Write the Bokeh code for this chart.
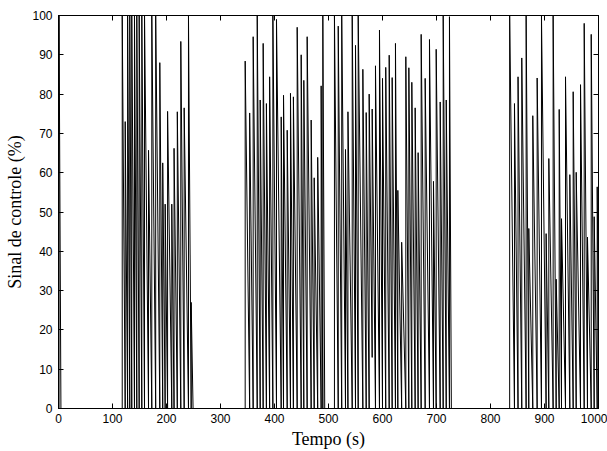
from bokeh.plotting import figure
from bokeh.models import Range1d, LinearAxis, FixedTicker
from bokeh.embed import file_html
from bokeh.resources import INLINE

# ---- data ----
x_ticks = [0, 100, 200, 300, 400, 500, 600, 700, 800, 900, 1000]
y_ticks = [0, 10, 20, 30, 40, 50, 60, 70, 80, 90, 100]

# time (s) of each pulse and its peak value (%)
spike_time = [
    1.0,
    118.0, 123.5, 128.0, 132.0, 135.7, 140.7, 145.0, 149.4, 154.3, 159.3,
    166.7, 172.8, 180.0, 187.6, 193.0, 197.5, 202.0, 209.8, 214.0, 220.0,
    226.5, 232.7, 240.7, 245.7,
    345.7, 354.0, 360.5, 368.0, 373.5, 379.0, 385.0, 391.0, 397.0, 403.7,
    412.4, 416.7, 423.5, 429.6, 435.0, 442.0, 449.4, 454.3, 460.5, 467.9,
    473.5, 480.0, 486.4, 489.5,
    511.0, 518.0, 524.5, 531.5, 536.0, 543.9, 550.0, 555.0, 563.6, 569.8,
    575.3, 580.9, 587.0, 594.4, 600.0, 606.0, 612.4, 617.9, 624.0, 628.4,
    635.5, 643.2, 648.8, 654.3, 660.5, 666.0, 671.6, 679.0, 687.0, 694.4,
    699.4, 706.8, 712.4, 718.0, 724.0,
    835.5, 844.4, 851.0, 857.9, 866.0, 870.9, 878.3, 886.4, 894.4, 903.0,
    908.0, 916.0, 921.6, 927.2, 931.5, 938.9, 946.9, 953.1, 958.7, 966.7,
    973.5, 979.6, 986.5, 992.0, 997.6,
]
spike_peak = [
    100.0,
    100.0, 73.0, 100.0, 100.0, 100.0, 100.0, 100.0, 100.0, 100.0, 100.0,
    65.7, 100.0, 100.0, 88.0, 62.5, 52.0, 75.6, 52.0, 66.2, 75.5,
    93.4, 76.5, 100.0, 27.0,
    88.4, 75.2, 94.6, 100.0, 78.5, 92.9, 77.6, 84.4, 100.0, 99.0,
    74.2, 79.7, 70.8, 80.2, 79.3, 97.0, 90.0, 83.5, 94.6, 73.4,
    58.7, 63.9, 82.1, 100.0,
    100.0, 97.3, 100.0, 65.9, 75.5, 100.0, 92.4, 100.0, 86.3, 75.3,
    80.0, 76.2, 87.2, 96.3, 84.0, 86.8, 89.9, 84.2, 92.9, 55.5,
    42.3, 89.5, 86.7, 83.0, 76.5, 65.1, 95.2, 84.0, 93.9, 57.8,
    91.4, 78.0, 100.0, 78.5, 99.7,
    100.0, 77.6, 84.4, 89.2, 100.0, 45.8, 74.5, 84.1, 100.0, 44.5,
    63.6, 100.0, 32.9, 76.1, 48.3, 84.4, 59.5, 80.6, 60.1, 82.4,
    98.0, 43.6, 95.2, 48.8, 56.4,
]
# level the signal had decayed to when the next pulse started (default 0)
decay_floor = {575.3: 13.0}

# build the control-signal trace: vertical rise, decay until next pulse
xs, ys = [0.0], [0.0]
level = 0.0
n = len(spike_time)
for i in range(n):
    t, pk = spike_time[i], spike_peak[i]
    xs += [t, t]
    ys += [level, pk]
    level = decay_floor.get(t, 0.0)
    if i + 1 < n and spike_time[i + 1] - t <= 12:
        xs.append(spike_time[i + 1])
        ys.append(level)
    else:
        xs.append(t + 3.5)
        ys.append(0.0)
        level = 0.0

p = figure(width=607, height=451,
           x_range=Range1d(0, 1000), y_range=Range1d(0, 100),
           output_backend="svg", toolbar_location=None,
           min_border_left=58, min_border_top=15, min_border_right=9,
           min_border_bottom=43)

p.line(xs, ys, line_color="black", line_width=1)

p.xgrid.visible = False
p.ygrid.visible = False
p.outline_line_color = "black"
p.outline_line_width = 1
p.background_fill_color = "white"
p.border_fill_color = "white"

tick_font = "Liberation Sans"
label_font = "Liberation Serif"

xa = p.xaxis[0]
xa.ticker = FixedTicker(ticks=x_ticks)
xa.axis_label = "Tempo (s)"
ya = p.yaxis[0]
ya.ticker = FixedTicker(ticks=y_ticks)
ya.axis_label = "Sinal de controle (%)"

for ax in (xa, ya):
    ax.major_tick_in = 5
    ax.major_tick_out = 0
    ax.minor_tick_in = 0
    ax.minor_tick_out = 0
    ax.axis_line_color = "black"
    ax.major_tick_line_color = "black"
    ax.major_label_text_font = tick_font
    ax.major_label_text_font_size = "12px"
    ax.major_label_text_color = "black"
    ax.axis_label_text_font = label_font
    ax.axis_label_text_font_size = "18px"
    ax.axis_label_text_font_style = "normal"
    ax.axis_label_text_color = "black"

xa.major_label_standoff = 5
xa.axis_label_standoff = 3
ya.major_label_standoff = 6
ya.axis_label_standoff = 4

top = LinearAxis(ticker=FixedTicker(ticks=x_ticks))
right = LinearAxis(ticker=FixedTicker(ticks=y_ticks))
for ax in (top, right):
    ax.major_tick_in = 5
    ax.major_tick_out = 0
    ax.minor_tick_in = 0
    ax.minor_tick_out = 0
    ax.major_label_text_font_size = "0px"
    ax.major_label_standoff = 0
    ax.axis_label_standoff = 0
    ax.axis_line_color = "black"
    ax.major_tick_line_color = "black"
p.add_layout(top, "above")
p.add_layout(right, "right")

open("out.html", "w").write(file_html(p, INLINE))
